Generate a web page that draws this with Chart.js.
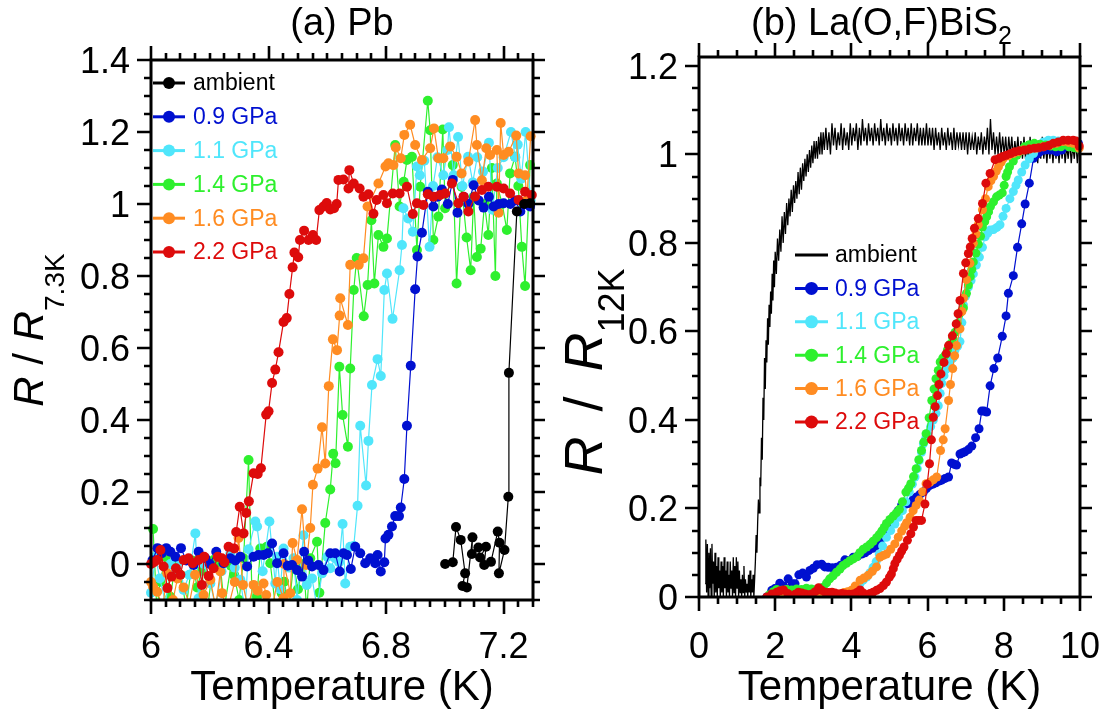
<!DOCTYPE html>
<html>
<head>
<meta charset="utf-8">
<script src="https://cdn.jsdelivr.net/npm/chart.js@4.4.0/dist/chart.umd.min.js"></script>
<style>
  html, body { margin: 0; padding: 0; background: #fff; }
  #wrap { position: relative; width: 1110px; height: 716px; overflow: hidden; }
  .panel { position: absolute; top: 0; width: 555px; height: 716px; }
</style>
</head>
<body>
<div id="wrap">
  <div class="panel" style="left:0"><canvas id="chartA" width="555" height="716"></canvas></div>
  <div class="panel" style="left:555px"><canvas id="chartB" width="555" height="716"></canvas></div>
</div>
<script>
// ---- (a) Pb : [T (K), R/R7.3K] ----
const pbAmbient = [[7.001,0.0],[7.027,0.005],[7.038,0.103],[7.054,0.067],[7.069,-0.026],[7.06,-0.061],[7.075,-0.065],[7.094,0.074],[7.092,0.028],[7.114,0.046],[7.12,0.018],[7.14,0.048],[7.134,-0.003],[7.157,0.006],[7.18,0.09],[7.186,0.059],[7.184,-0.026],[7.203,0.039],[7.216,0.187],[7.218,0.531],[7.245,0.979],[7.27,1.0],[7.29,1.002]];
const pb09 = [[6.005,0.01],[6.022,0.044],[6.037,0.03],[6.052,0.044],[6.066,0.034],[6.083,0.02],[6.102,0.044],[6.12,0.01],[6.145,-0.003],[6.162,0.034],[6.185,0.016],[6.2,0.0],[6.222,0.034],[6.247,0.002],[6.27,0.016],[6.287,0.01],[6.304,0.02],[6.327,-0.007],[6.349,0.02],[6.366,0.025],[6.383,0.025],[6.398,0.03],[6.412,0.057],[6.429,0.002],[6.451,0.03],[6.465,-0.005],[6.48,-0.003],[6.497,-0.017],[6.514,-0.035],[6.521,0.034],[6.535,0.01],[6.548,-0.007],[6.57,-0.003],[6.587,-0.017],[6.61,0.03],[6.627,0.03],[6.642,-0.021],[6.655,0.03],[6.667,0.025],[6.68,-0.014],[6.695,0.048],[6.712,0.03],[6.729,0.002],[6.746,0.016],[6.763,0.002],[6.771,0.025],[6.782,-0.021],[6.794,0.005],[6.798,0.071],[6.808,0.081],[6.82,0.104],[6.831,0.133],[6.844,0.133],[6.85,0.157],[6.862,0.236],[6.871,0.384],[6.884,0.551],[6.899,0.763],[6.907,0.854],[6.922,0.92],[6.942,1.034],[6.961,0.993],[6.975,1.02],[6.99,1.04],[7.01,1.0],[7.027,1.067],[7.043,0.976],[7.064,1.02],[7.08,1.0],[7.098,1.052],[7.115,1.01],[7.132,0.99],[7.15,1.02],[7.166,0.993],[7.183,1.0],[7.2,1.002],[7.223,1.0],[7.24,1.01],[7.257,0.979],[7.275,1.0],[7.29,0.993]];
const pb11 = [[6.0,-0.08],[6.015,0.02],[6.03,-0.04],[6.05,-0.11],[6.066,0.0],[6.083,-0.026],[6.1,0.01],[6.111,-0.072],[6.13,-0.03],[6.151,0.085],[6.162,-0.095],[6.18,0.0],[6.202,-0.054],[6.22,-0.12],[6.24,-0.02],[6.27,0.03],[6.285,-0.01],[6.304,-0.044],[6.32,-0.13],[6.332,0.041],[6.355,0.118],[6.361,0.104],[6.38,-0.02],[6.403,0.118],[6.423,-0.054],[6.429,0.02],[6.44,-0.07],[6.451,0.043],[6.47,-0.01],[6.485,0.016],[6.497,-0.1],[6.519,0.08],[6.53,-0.058],[6.548,-0.04],[6.565,-0.12],[6.582,-0.026],[6.6,0.02],[6.61,-0.012],[6.627,0.016],[6.64,0.005],[6.652,0.111],[6.661,-0.054],[6.678,0.048],[6.69,0.05],[6.703,0.162],[6.712,0.384],[6.732,0.218],[6.74,0.342],[6.752,0.497],[6.771,0.569],[6.782,0.522],[6.794,0.761],[6.803,0.807],[6.822,0.681],[6.846,0.816],[6.854,0.886],[6.859,0.988],[6.875,0.96],[6.891,0.923],[6.905,1.104],[6.915,1.08],[6.93,1.12],[6.948,0.881],[6.96,1.05],[6.975,1.13],[6.995,1.08],[7.009,1.15],[7.014,1.213],[7.03,1.08],[7.045,1.186],[7.06,1.05],[7.079,1.131],[7.095,1.06],[7.11,1.13],[7.13,1.09],[7.15,1.17],[7.162,0.984],[7.18,1.1],[7.2,1.13],[7.225,1.2],[7.24,1.13],[7.248,1.165],[7.26,1.07],[7.275,1.2],[7.292,1.01]];
const pb14 = [[6.007,0.097],[6.02,-0.13],[6.031,-0.049],[6.05,0.02],[6.066,-0.091],[6.083,0.0],[6.1,-0.03],[6.12,-0.12],[6.14,0.01],[6.157,-0.065],[6.173,-0.019],[6.19,-0.14],[6.213,0.011],[6.236,-0.007],[6.25,-0.12],[6.272,-0.005],[6.283,-0.031],[6.3,-0.1],[6.315,0.016],[6.332,0.289],[6.345,-0.13],[6.361,-0.091],[6.372,0.043],[6.394,0.048],[6.406,0.002],[6.425,-0.13],[6.445,-0.081],[6.453,-0.049],[6.47,-0.12],[6.485,0.0],[6.5,-0.07],[6.519,0.0],[6.53,-0.13],[6.542,0.016],[6.565,0.062],[6.573,-0.08],[6.593,0.114],[6.61,0.207],[6.62,0.306],[6.628,0.28],[6.641,0.548],[6.652,0.414],[6.67,0.326],[6.678,0.543],[6.69,0.761],[6.7,0.85],[6.724,0.688],[6.737,0.775],[6.75,0.955],[6.76,0.779],[6.774,0.914],[6.791,0.881],[6.803,0.904],[6.831,1.164],[6.846,0.993],[6.86,1.062],[6.871,1.122],[6.888,1.131],[6.905,0.872],[6.916,1.048],[6.942,1.287],[6.95,1.205],[6.961,0.9],[6.978,0.965],[6.993,1.207],[7.001,0.988],[7.027,1.108],[7.04,0.779],[7.057,1.048],[7.074,0.907],[7.088,0.816],[7.098,1.02],[7.109,0.853],[7.122,0.876],[7.135,1.0],[7.148,0.914],[7.16,1.1],[7.172,0.8],[7.177,1.057],[7.195,1.0],[7.211,0.928],[7.222,1.085],[7.239,1.131],[7.25,1.05],[7.262,0.881],[7.273,0.772],[7.29,1.108]];
const pb16 = [[6.0,-0.05],[6.007,-0.063],[6.021,-0.077],[6.04,-0.12],[6.055,-0.026],[6.075,-0.1],[6.09,-0.04],[6.111,-0.065],[6.13,-0.11],[6.15,-0.03],[6.179,-0.086],[6.202,-0.044],[6.22,-0.12],[6.236,-0.021],[6.242,-0.081],[6.26,-0.13],[6.285,-0.05],[6.298,0.072],[6.313,-0.058],[6.33,-0.12],[6.349,-0.058],[6.363,-0.074],[6.383,-0.054],[6.392,-0.086],[6.41,-0.13],[6.43,-0.05],[6.451,-0.095],[6.453,0.0],[6.474,-0.081],[6.482,0.058],[6.497,0.011],[6.514,0.152],[6.528,-0.003],[6.542,0.1],[6.551,0.22],[6.567,0.265],[6.582,0.38],[6.593,0.279],[6.605,0.494],[6.619,0.624],[6.633,0.594],[6.642,0.69],[6.644,0.738],[6.67,0.664],[6.678,0.831],[6.707,0.831],[6.723,0.849],[6.737,0.993],[6.774,1.057],[6.798,1.104],[6.808,1.113],[6.825,1.108],[6.833,1.157],[6.85,1.127],[6.862,1.192],[6.882,1.22],[6.899,1.164],[6.922,1.122],[6.95,1.155],[6.963,1.21],[6.978,1.127],[6.995,1.127],[7.018,1.16],[7.04,1.131],[7.057,1.085],[7.08,1.118],[7.103,1.233],[7.109,1.164],[7.126,1.066],[7.141,1.155],[7.154,1.136],[7.177,1.15],[7.183,0.976],[7.19,1.225],[7.2,1.136],[7.217,1.145],[7.243,1.19],[7.251,1.085],[7.273,1.08],[7.279,1.01],[7.292,1.188]];
const pb22 = [[6.0,0.0],[6.01,0.005],[6.021,0.011],[6.032,0.039],[6.043,-0.007],[6.056,-0.067],[6.07,-0.035],[6.085,-0.012],[6.1,-0.03],[6.111,0.011],[6.128,0.016],[6.142,0.002],[6.162,0.011],[6.173,-0.058],[6.181,0.02],[6.196,-0.033],[6.213,-0.012],[6.227,0.02],[6.241,0.016],[6.25,0.005],[6.264,0.048],[6.283,0.043],[6.29,0.089],[6.302,0.159],[6.315,0.085],[6.324,0.142],[6.333,0.174],[6.349,0.252],[6.363,0.25],[6.374,0.266],[6.392,0.415],[6.4,0.424],[6.412,0.503],[6.423,0.54],[6.434,0.588],[6.451,0.672],[6.462,0.683],[6.471,0.75],[6.482,0.824],[6.488,0.865],[6.501,0.852],[6.507,0.9],[6.521,0.926],[6.536,0.9],[6.551,0.914],[6.562,0.9],[6.573,0.983],[6.587,0.993],[6.598,1.003],[6.61,0.985],[6.623,0.988],[6.632,1.0],[6.638,1.067],[6.655,1.068],[6.672,1.043],[6.675,1.094],[6.69,1.057],[6.71,1.043],[6.723,1.02],[6.74,1.027],[6.757,0.973],[6.768,1.011],[6.791,1.025],[6.803,1.002],[6.823,1.029],[6.846,1.029],[6.871,1.048],[6.891,0.972],[6.905,1.002],[6.927,0.997],[6.942,1.027],[6.961,1.02],[6.984,1.025],[7.001,1.029],[7.024,1.057],[7.046,1.002],[7.064,1.02],[7.08,0.979],[7.103,1.021],[7.126,1.039],[7.148,1.048],[7.177,1.048],[7.2,1.043],[7.222,1.029],[7.251,1.011],[7.273,1.034],[7.296,1.025]];

// ---- (b) La(O,F)BiS2 : [T (K), R/R12K] ----
// ambient trace: noisy, read as a dense band
const lbAmbient = [[0.16,0.03],[0.18,0.13],[0.20,0.01],[0.22,0.12],[0.24,0.0],[0.26,0.10],[0.28,0.02],[0.30,0.11],[0.32,0.0],[0.34,0.12],[0.36,0.03],[0.38,0.08],[0.40,0.0],[0.42,0.10],[0.44,0.01],[0.46,0.07],[0.48,0.0],[0.50,0.09],[0.52,0.02],[0.54,0.06],[0.56,0.0],[0.58,0.08],[0.60,0.01],[0.62,0.07],[0.64,0.0],[0.66,0.09],[0.68,0.02],[0.70,0.06],[0.72,0.0],[0.74,0.08],[0.76,0.01],[0.78,0.05],[0.80,0.0],[0.82,0.08],[0.84,0.02],[0.86,0.06],[0.88,0.0],[0.90,0.09],[0.92,0.01],[0.94,0.07],[0.96,0.0],[0.98,0.09],[1.00,0.02],[1.02,0.08],[1.04,0.0],[1.06,0.06],[1.08,0.01],[1.10,0.04],[1.12,0.0],[1.14,0.05],[1.16,0.01],[1.18,0.07],[1.20,0.0],[1.22,0.04],[1.24,0.01],[1.26,0.03],[1.28,0.0],[1.30,0.05],[1.32,0.01],[1.34,0.06],[1.36,0.0],[1.38,0.04],[1.40,0.01],[1.42,0.05],[1.44,0.0],[1.46,0.04],
  [1.48,0.08],[1.50,0.14],[1.52,0.10],[1.54,0.17],[1.56,0.22],[1.58,0.19],[1.60,0.27],[1.62,0.25],[1.64,0.36],[1.66,0.31],[1.68,0.45],[1.70,0.40],[1.72,0.54],[1.74,0.47],[1.76,0.58],[1.78,0.53],[1.80,0.63],[1.82,0.57],[1.84,0.66],[1.86,0.61],[1.88,0.69],[1.90,0.64],[1.92,0.73],[1.94,0.67],[1.96,0.76],[1.98,0.70],[2.00,0.78],
  [2.03,0.73],[2.06,0.81],[2.09,0.76],[2.12,0.83],[2.15,0.78],[2.18,0.86],[2.21,0.80],[2.24,0.87],[2.27,0.82],[2.30,0.89],[2.33,0.84],[2.36,0.90],[2.39,0.86],[2.42,0.92],[2.45,0.87],[2.48,0.93],[2.51,0.89],[2.54,0.94],[2.57,0.90],[2.60,0.96],[2.63,0.91],[2.66,0.97],[2.69,0.92],[2.72,0.98],[2.75,0.94],[2.78,0.99],[2.81,0.95],[2.84,1.00],[2.87,0.96],[2.90,1.01],[2.93,0.97],[2.96,1.02],[2.99,0.98],[3.02,1.03],[3.05,0.99],[3.08,1.03],[3.11,0.99],[3.14,1.04],[3.17,1.00],[3.20,1.05],[3.23,1.00],[3.26,1.05],[3.29,1.01],
  [3.33,1.06],[3.37,1.01],[3.41,1.05],[3.45,1.00],[3.49,1.07],[3.53,1.02],[3.57,1.06],[3.61,1.01],[3.65,1.05],[3.69,1.02],[3.73,1.07],[3.77,1.01],[3.81,1.06],[3.85,1.02],[3.89,1.05],[3.93,1.01],[3.97,1.07],[4.01,1.02],[4.05,1.06],[4.09,1.03],[4.13,1.07],[4.17,1.01],[4.21,1.06],[4.25,1.02],[4.29,1.08],[4.33,1.03],[4.37,1.06],[4.41,1.02],[4.45,1.07],[4.49,1.03],[4.53,1.06],[4.57,1.02],[4.61,1.07],[4.65,1.03],[4.69,1.06],[4.73,1.02],[4.77,1.08],[4.81,1.03],[4.85,1.06],[4.89,1.02],[4.93,1.07],[4.97,1.03],[5.01,1.06],[5.05,1.02],[5.09,1.07],[5.13,1.03],[5.17,1.06],[5.21,1.02],[5.25,1.07],[5.29,1.03],[5.33,1.06],[5.37,1.02],[5.41,1.07],[5.45,1.03],[5.49,1.06],[5.53,1.02],[5.57,1.07],[5.61,1.02],[5.65,1.06],[5.69,1.03],[5.73,1.07],[5.77,1.02],[5.81,1.06],[5.85,1.02],[5.89,1.06],[5.93,1.02],[5.97,1.07],[6.01,1.02],[6.05,1.06],[6.09,1.02],[6.13,1.06],[6.17,1.01],[6.21,1.06],[6.25,1.02],[6.29,1.05],[6.33,1.01],[6.37,1.06],[6.41,1.02],[6.45,1.05],[6.49,1.01],[6.53,1.06],[6.57,1.02],[6.61,1.05],[6.65,1.01],[6.69,1.06],[6.73,1.01],[6.77,1.05],[6.81,1.02],[6.85,1.05],[6.89,1.01],[6.93,1.05],[6.97,1.01],[7.01,1.05],[7.05,1.00],[7.09,1.05],[7.13,1.01],[7.17,1.04],[7.21,1.01],[7.25,1.05],[7.29,1.00],[7.33,1.04],[7.37,1.01],[7.41,1.05],[7.45,1.00],[7.49,1.04],[7.53,1.01],[7.57,1.06],[7.61,1.00],[7.65,1.08],[7.69,1.01],[7.73,1.05],[7.77,1.00],[7.81,1.04],[7.85,1.00],[7.89,1.05],[7.93,1.00],[7.97,1.04],[8.01,1.00],[8.05,1.04],[8.09,0.99],[8.13,1.04],[8.17,1.00],[8.21,1.04],[8.25,0.99],[8.29,1.03],[8.33,1.00],[8.37,1.04],[8.41,0.99],[8.45,1.03],[8.49,0.99],[8.53,1.04],[8.57,0.99],[8.61,1.03],[8.65,0.98],[8.69,1.04],[8.73,0.99],[8.77,1.03],[8.81,0.99],[8.85,1.03],[8.89,0.98],[8.93,1.03],[8.97,0.99],[9.01,1.04],[9.05,0.99],[9.09,1.03],[9.13,0.98],[9.17,1.03],[9.21,0.99],[9.25,1.03],[9.29,0.98],[9.33,1.03],[9.37,0.99],[9.41,1.03],[9.45,0.98],[9.49,1.03],[9.53,0.99],[9.57,1.03],[9.61,0.98],[9.65,1.02],[9.69,0.99],[9.73,1.03],[9.77,0.98],[9.81,1.02],[9.85,0.99],[9.89,1.03],[9.93,0.98],[9.97,1.02],[10.0,1.00]];
const lb09 = [[1.78,0.0],[1.91,0.015],[1.99,0.019],[2.12,0.031],[2.22,0.025],[2.34,0.041],[2.45,0.03],[2.52,0.03],[2.62,0.05],[2.72,0.054],[2.82,0.045],[2.91,0.06],[3.0,0.065],[3.1,0.073],[3.22,0.074],[3.3,0.068],[3.39,0.067],[3.5,0.066],[3.61,0.067],[3.72,0.072],[3.83,0.084],[3.94,0.082],[4.05,0.09],[4.16,0.092],[4.27,0.097],[4.36,0.1],[4.45,0.105],[4.56,0.11],[4.66,0.116],[4.75,0.13],[4.84,0.144],[4.93,0.16],[5.02,0.174],[5.14,0.182],[5.23,0.195],[5.32,0.208],[5.43,0.21],[5.54,0.211],[5.62,0.22],[5.71,0.226],[5.8,0.232],[5.89,0.237],[5.97,0.245],[6.05,0.252],[6.14,0.255],[6.22,0.258],[6.3,0.262],[6.37,0.264],[6.46,0.268],[6.55,0.271],[6.63,0.303],[6.7,0.3],[6.76,0.298],[6.85,0.323],[6.92,0.326],[6.98,0.328],[7.07,0.333],[7.16,0.341],[7.26,0.36],[7.35,0.38],[7.42,0.42],[7.48,0.42],[7.55,0.418],[7.64,0.477],[7.74,0.516],[7.84,0.54],[7.96,0.589],[8.06,0.635],[8.12,0.686],[8.25,0.726],[8.36,0.79],[8.47,0.843],[8.56,0.888],[8.67,0.935],[8.78,0.991],[8.87,1.0],[8.95,1.006],[9.08,1.01],[9.21,1.01],[9.3,1.01],[9.39,1.006],[9.52,1.01],[9.65,1.017],[9.8,1.02],[9.96,1.025]];
const lb11 = [[1.95,0.0],[2.1,0.004],[2.25,0.0],[2.4,0.002],[2.55,0.0],[2.7,0.003],[2.85,0.0],[3.0,0.002],[3.15,0.0],[3.3,0.002],[3.45,0.0],[3.6,0.003],[3.75,0.005],[3.9,0.01],[4.05,0.016],[4.14,0.022],[4.23,0.031],[4.31,0.038],[4.4,0.045],[4.49,0.055],[4.57,0.067],[4.65,0.08],[4.73,0.097],[4.82,0.115],[4.92,0.135],[5.03,0.15],[5.14,0.165],[5.24,0.18],[5.34,0.195],[5.43,0.215],[5.52,0.237],[5.6,0.255],[5.67,0.271],[5.73,0.29],[5.78,0.308],[5.84,0.327],[5.89,0.346],[5.95,0.358],[6.0,0.369],[6.08,0.385],[6.15,0.4],[6.22,0.415],[6.28,0.432],[6.33,0.46],[6.37,0.483],[6.43,0.5],[6.48,0.514],[6.57,0.527],[6.66,0.539],[6.72,0.558],[6.79,0.567],[6.85,0.577],[6.9,0.62],[6.94,0.66],[7.0,0.68],[7.07,0.7],[7.14,0.715],[7.2,0.73],[7.28,0.75],[7.36,0.768],[7.44,0.79],[7.51,0.814],[7.58,0.822],[7.64,0.829],[7.73,0.83],[7.82,0.835],[7.9,0.841],[7.98,0.86],[8.06,0.878],[8.16,0.9],[8.25,0.916],[8.32,0.93],[8.38,0.942],[8.47,0.96],[8.56,0.976],[8.67,0.99],[8.78,1.002],[8.9,1.015],[9.04,1.028],[9.17,1.032],[9.3,1.032],[9.43,1.03],[9.56,1.025],[9.69,1.022],[9.82,1.019],[9.96,1.015]];
const lb14 = [[1.85,0.005],[1.95,0.012],[2.04,0.017],[2.17,0.015],[2.3,0.017],[2.43,0.016],[2.56,0.018],[2.69,0.017],[2.82,0.02],[2.95,0.018],[3.08,0.017],[3.17,0.02],[3.26,0.022],[3.35,0.032],[3.43,0.041],[3.52,0.048],[3.61,0.056],[3.7,0.063],[3.78,0.071],[3.87,0.076],[3.96,0.082],[4.05,0.086],[4.14,0.091],[4.22,0.1],[4.31,0.108],[4.4,0.113],[4.49,0.119],[4.57,0.126],[4.66,0.134],[4.73,0.141],[4.8,0.149],[4.86,0.157],[4.92,0.166],[5.01,0.175],[5.1,0.183],[5.18,0.19],[5.26,0.198],[5.34,0.215],[5.43,0.237],[5.5,0.246],[5.56,0.256],[5.63,0.272],[5.7,0.29],[5.77,0.31],[5.84,0.331],[5.9,0.35],[5.96,0.369],[6.04,0.405],[6.11,0.444],[6.17,0.47],[6.22,0.493],[6.28,0.512],[6.33,0.531],[6.4,0.54],[6.46,0.546],[6.52,0.558],[6.59,0.571],[6.66,0.585],[6.72,0.598],[6.78,0.618],[6.83,0.639],[6.89,0.646],[6.94,0.653],[7.02,0.686],[7.07,0.705],[7.12,0.724],[7.16,0.74],[7.2,0.757],[7.27,0.777],[7.33,0.797],[7.39,0.815],[7.44,0.836],[7.5,0.848],[7.55,0.859],[7.6,0.87],[7.65,0.882],[7.73,0.893],[7.81,0.904],[7.88,0.908],[7.96,0.913],[8.01,0.93],[8.06,0.95],[8.1,0.96],[8.15,0.972],[8.25,0.985],[8.34,0.998],[8.44,1.008],[8.54,1.017],[8.67,1.022],[8.8,1.025],[8.95,1.023],[9.1,1.021],[9.23,1.019],[9.36,1.017],[9.5,1.017],[9.71,1.017],[9.85,1.015],[9.93,1.014]];
const lb16 = [[1.85,0.0],[1.95,0.003],[2.09,0.0],[2.22,0.0],[2.35,0.003],[2.48,0.001],[2.61,0.0],[2.74,0.0],[2.87,0.002],[3.0,0.0],[3.13,0.001],[3.26,0.003],[3.35,0.001],[3.48,0.004],[3.6,0.005],[3.7,0.007],[3.8,0.01],[3.9,0.012],[4.0,0.015],[4.1,0.025],[4.23,0.038],[4.33,0.043],[4.44,0.049],[4.55,0.058],[4.66,0.068],[4.75,0.09],[4.84,0.094],[4.92,0.097],[5.03,0.108],[5.14,0.12],[5.23,0.135],[5.32,0.149],[5.4,0.16],[5.45,0.168],[5.54,0.18],[5.62,0.195],[5.7,0.207],[5.78,0.219],[5.87,0.238],[5.96,0.256],[6.06,0.259],[6.15,0.265],[6.24,0.271],[6.34,0.331],[6.41,0.355],[6.46,0.38],[6.55,0.444],[6.6,0.48],[6.66,0.516],[6.71,0.545],[6.76,0.568],[6.85,0.606],[6.9,0.645],[6.94,0.675],[7.02,0.717],[7.11,0.754],[7.2,0.799],[7.27,0.82],[7.33,0.841],[7.44,0.875],[7.52,0.9],[7.59,0.927],[7.66,0.94],[7.73,0.95],[7.8,0.962],[7.86,0.972],[7.93,0.982],[7.99,0.991],[8.12,0.997],[8.25,1.002],[8.38,1.006],[8.51,1.01],[8.68,1.012],[8.86,1.014],[9.03,1.017],[9.21,1.021],[9.38,1.025],[9.56,1.029],[9.7,1.027],[9.82,1.025],[9.98,1.014]];
const lb22 = [[1.78,0.0],[1.91,0.007],[2.04,0.011],[2.13,0.014],[2.22,0.016],[2.33,0.008],[2.44,0.001],[2.52,0.006],[2.61,0.011],[2.7,0.009],[2.79,0.007],[2.88,0.005],[2.96,0.007],[3.05,0.012],[3.14,0.021],[3.22,0.015],[3.31,0.011],[3.4,0.01],[3.49,0.011],[3.57,0.009],[3.66,0.007],[3.75,0.008],[3.83,0.007],[3.94,0.006],[4.05,0.007],[4.14,0.01],[4.23,0.016],[4.31,0.009],[4.4,0.004],[4.49,0.008],[4.57,0.011],[4.66,0.015],[4.75,0.019],[4.84,0.026],[4.92,0.034],[5.0,0.045],[5.05,0.052],[5.1,0.064],[5.14,0.075],[5.2,0.085],[5.26,0.094],[5.32,0.104],[5.38,0.113],[5.47,0.128],[5.56,0.143],[5.63,0.158],[5.7,0.173],[5.77,0.173],[5.84,0.173],[5.93,0.21],[5.99,0.255],[6.05,0.301],[6.1,0.355],[6.15,0.406],[6.2,0.43],[6.26,0.455],[6.3,0.48],[6.35,0.504],[6.43,0.53],[6.49,0.55],[6.55,0.568],[6.65,0.59],[6.75,0.617],[6.8,0.64],[6.85,0.67],[6.94,0.731],[7.0,0.755],[7.07,0.776],[7.12,0.791],[7.17,0.81],[7.23,0.833],[7.33,0.855],[7.44,0.889],[7.53,0.935],[7.64,0.957],[7.77,0.988],[7.88,0.991],[7.97,0.995],[8.06,0.998],[8.18,1.002],[8.29,1.006],[8.41,1.008],[8.54,1.01],[8.67,1.012],[8.8,1.014],[8.92,1.015],[9.05,1.017],[9.18,1.02],[9.3,1.025],[9.43,1.028],[9.56,1.032],[9.69,1.032],[9.82,1.032],[9.9,1.03],[9.98,1.019]];

// labels / ticks
const seriesLabels = ['ambient', '0.9 GPa', '1.1 GPa', '1.4 GPa', '1.6 GPa', '2.2 GPa'];
const seriesColors = ['#000000', '#0010d0', '#50e6fb', '#2ef02e', '#ff8c22', '#dd0b0b'];
const xTicksA = [6, 6.4, 6.8, 7.2];
const yTicksA = [0, 0.2, 0.4, 0.6, 0.8, 1, 1.2, 1.4];
const xTicksB = [0, 2, 4, 6, 8, 10];
const yTicksB = [0, 0.2, 0.4, 0.6, 0.8, 1, 1.2];

const FONT = "'Liberation Sans', Arial, sans-serif";

function pts(arr) { return arr.map(p => ({ x: p[0], y: p[1] })); }

function makeDatasets(series, radius, drawOrder) {
  return series.map((s, i) => ({
    label: seriesLabels[i],
    data: pts(s),
    borderColor: seriesColors[i],
    backgroundColor: seriesColors[i],
    pointBackgroundColor: seriesColors[i],
    pointBorderWidth: 0,
    pointRadius: (i === 0 && radius.noAmbientMarker) ? 0 : radius.r,
    borderWidth: (i === 0 && radius.noAmbientMarker) ? 1.3 : 1.2,
    showLine: true,
    tension: 0,
    order: drawOrder[i],
    clip: { left: 8, top: 8, right: 10, bottom: 0 }
  }));
}

// text made of parts (italic R, subscripts, gaps)
function drawParts(ctx, parts, cx, baseY, rotate) {
  ctx.save();
  ctx.translate(cx, baseY);
  if (rotate) ctx.rotate(-Math.PI / 2);
  let total = 0;
  parts.forEach(p => { ctx.font = p.font; p.w = ctx.measureText(p.t).width + (p.gap || 0) * 2; total += p.w; });
  let x = -total / 2;
  ctx.textBaseline = 'alphabetic';
  ctx.textAlign = 'left';
  parts.forEach(p => {
    ctx.font = p.font;
    ctx.fillStyle = '#000';
    ctx.fillText(p.t, x + (p.gap || 0), p.dy || 0);
    x += p.w;
  });
  ctx.restore();
}

function framePlugin(cfg) {
  return {
    id: 'frame' + cfg.name,
    afterDatasetsDraw(chart) {
      const ctx = chart.ctx;
      const a = chart.chartArea;
      const xs = chart.scales.x, ys = chart.scales.y;
      const isMajor = (v, list) => list.some(m => Math.abs(m - v) < 1e-6);
      ctx.save();
      ctx.strokeStyle = '#000';
      ctx.lineCap = 'butt';
      ctx.lineWidth = 2.6;
      // x ticks, bottom and top
      for (let k = Math.ceil(xs.min / cfg.xMinor - 1e-6); k * cfg.xMinor <= xs.max + 1e-6; k++) {
        const v = k * cfg.xMinor;
        const px = Math.round(xs.getPixelForValue(v));
        const len = isMajor(v, cfg.xTicks) ? 14 : 7;
        ctx.beginPath();
        ctx.moveTo(px, a.bottom); ctx.lineTo(px, a.bottom + len);
        ctx.moveTo(px, a.top); ctx.lineTo(px, a.top - len);
        ctx.stroke();
      }
      // y ticks, left and right
      for (let k = Math.ceil(ys.min / cfg.yMinor - 1e-6); k * cfg.yMinor <= ys.max + 1e-6; k++) {
        const v = k * cfg.yMinor;
        const py = Math.round(ys.getPixelForValue(v));
        const major = isMajor(v, cfg.yTicks);
        ctx.beginPath();
        ctx.moveTo(a.left - (major ? 14 : 7), py); ctx.lineTo(a.left, py);
        ctx.moveTo(a.right, py); ctx.lineTo(a.right + (major ? 12 : 7), py);
        ctx.stroke();
      }
      ctx.lineWidth = 3;
      ctx.strokeRect(a.left, a.top, a.right - a.left, a.bottom - a.top);

      // tick labels
      ctx.fillStyle = '#000';
      ctx.font = '36px ' + FONT;
      ctx.textBaseline = 'alphabetic';
      ctx.textAlign = 'center';
      cfg.xTicks.forEach(v => ctx.fillText(String(v), xs.getPixelForValue(v), 658));
      ctx.textAlign = 'right';
      cfg.yTicks.forEach(v => ctx.fillText(String(v), a.left - 21, ys.getPixelForValue(v) + 13));

      // axis titles
      ctx.font = '42px ' + FONT;
      ctx.textAlign = 'center';
      ctx.fillText('Temperature (K)', (a.left + a.right) / 2, 700);
      drawParts(ctx, cfg.yTitle, cfg.yTitlePos[0], cfg.yTitlePos[1], true);
      drawParts(ctx, cfg.title, (a.left + a.right) / 2 + (cfg.titleDx || 0), 35, false);

      // legend
      const lg = cfg.legend;
      chart.data.datasets.forEach((ds, i) => {
        const y = lg.y0 + i * lg.dy;
        ctx.strokeStyle = ds.borderColor;
        ctx.lineWidth = 3;
        ctx.beginPath(); ctx.moveTo(lg.x1, y); ctx.lineTo(lg.x2, y); ctx.stroke();
        if (ds.pointRadius > 0) {
          ctx.fillStyle = ds.borderColor;
          ctx.beginPath(); ctx.arc((lg.x1 + lg.x2) / 2, y, lg.r, 0, Math.PI * 2); ctx.fill();
        }
        ctx.fillStyle = ds.borderColor;
        ctx.font = '23px ' + FONT;
        ctx.textAlign = 'left';
        ctx.textBaseline = 'middle';
        ctx.fillText(ds.label, lg.tx, y + 1);
      });
      ctx.restore();
    }
  };
}

function makeChart(id, datasets, xr, yr, pad, cfg) {
  return new Chart(document.getElementById(id), {
    type: 'line',
    data: { datasets },
    options: {
      responsive: false,
      animation: false,
      devicePixelRatio: 1,
      layout: { padding: pad },
      scales: {
        x: { type: 'linear', min: xr[0], max: xr[1], display: false },
        y: { type: 'linear', min: yr[0], max: yr[1], display: false }
      },
      plugins: { legend: { display: false }, tooltip: { enabled: false } }
    },
    plugins: [framePlugin(cfg)]
  });
}

makeChart('chartA',
  makeDatasets([pbAmbient, pb09, pb11, pb14, pb16, pb22], { r: 5 }, [0, 2, 4, 5, 3, 1]),
  [6, 7.3], [-0.1, 1.4],
  { left: 151, right: 22, top: 60, bottom: 116 },
  {
    name: 'A', xTicks: xTicksA, yTicks: yTicksA, xMinor: 0.05, yMinor: 0.05,
    yTitle: [
      { t: 'R', font: 'italic 42px ' + FONT }, { t: ' / ', font: '42px ' + FONT },
      { t: 'R', font: 'italic 42px ' + FONT }, { t: '7.3K', font: '28px ' + FONT, dy: 21 }
    ],
    yTitlePos: [43, 330],
    title: [{ t: '(a) Pb', font: '38px ' + FONT }],
    legend: { x1: 153, x2: 185, tx: 193, y0: 83, dy: 33.8, r: 6 }
  });

makeChart('chartB',
  makeDatasets([lbAmbient, lb09, lb11, lb14, lb16, lb22], { r: 4.5, noAmbientMarker: true }, [5, 4, 3, 2, 1, 0]),
  [0, 10], [0, 1.22],
  { left: 144, right: 30, top: 57, bottom: 119 },
  {
    name: 'B', xTicks: xTicksB, yTicks: yTicksB, xMinor: 0.5, yMinor: 0.05,
    yTitle: [
      { t: 'R', font: 'italic 54px ' + FONT }, { t: ' / ', font: '54px ' + FONT, gap: 10 },
      { t: 'R', font: 'italic 54px ' + FONT }, { t: '12K', font: '36px ' + FONT, dy: 22 }
    ],
    yTitlePos: [47, 372],
    title: [{ t: '(b) La(O,F)BiS', font: '38px ' + FONT }, { t: '2', font: '25px ' + FONT, dy: 9 }],
    titleDx: -8,
    legend: { x1: 240, x2: 273, tx: 280, y0: 255, dy: 33.4, r: 6.5 }
  });
</script>
</body>
</html>
